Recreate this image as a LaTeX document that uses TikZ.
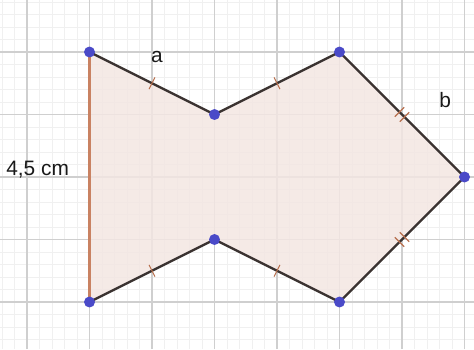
\documentclass[tikz,border=0pt]{standalone}
\usepackage{fontspec}
\setmainfont{Liberation Sans}
\usetikzlibrary{positioning}
\definecolor{gridmajor}{HTML}{CFCFCF}
\definecolor{gridminor}{HTML}{F0F0F0}
\definecolor{shapefill}{HTML}{F3E6E2}
\definecolor{edgedark}{HTML}{3A3230}
\definecolor{edgeside}{HTML}{C98262}
\definecolor{tickcol}{HTML}{B8704E}
\definecolor{pointcol}{HTML}{4A4AC8}
\tikzset{
    % Grid lines
    minor grid/.style={gridminor, line width=0.4pt},
    major grid/.style={gridmajor, line width=0.6pt},
    % Shape outline
    shape edge/.style={edgedark, line width=1.1pt},
    side edge/.style={edgeside, line width=1pt},
    % Equal length marks
    tick mark/.style={sloped, fill=tickcol, inner sep=0pt, minimum width=0.5pt, minimum height=6pt},
    % Vertices - blue dots
    vertex/.style={circle, fill=pointcol, inner sep=0pt, minimum size=5pt},
    % Labels
    label text/.style={font=\fontsize{9.5}{11}\selectfont, text=black!90}
}

\begin{document}
\begin{tikzpicture}
    \useasboundingbox (-0.432,-0.752) rectangle (7.152,4.832);

    % --- Background grid ---
    \draw[minor grid] (-0.432,-0.752) grid[step=0.2] (7.152,4.832);
    \draw[major grid] (-0.432,-0.752) grid[step=1] (7.152,4.832);

    % --- Set up coordinates ---
    \coordinate (A) at (1,4);
    \coordinate (B) at (3,3);
    \coordinate (C) at (5,4);
    \coordinate (D) at (7,2);
    \coordinate (E) at (5,0);
    \coordinate (F) at (3,1);
    \coordinate (G) at (1,0);

    % --- Filled shape ---
    \fill[shapefill, opacity=0.85] (A) -- (B) -- (C) -- (D) -- (E) -- (F) -- (G) -- cycle;

    % --- Edges with marks ---
    \draw[side edge] (G) -- (A);
    \draw[shape edge] (A) -- (B) node[tick mark, pos=0.5] {};
    \draw[shape edge] (B) -- (C) node[tick mark, pos=0.5] {};
    \draw[shape edge] (C) -- (D) node[tick mark, pos=0.48] {} node[tick mark, pos=0.52] {};
    \draw[shape edge] (D) -- (E) node[tick mark, pos=0.48] {} node[tick mark, pos=0.52] {};
    \draw[shape edge] (E) -- (F) node[tick mark, pos=0.5] {};
    \draw[shape edge] (F) -- (G) node[tick mark, pos=0.5] {};

    % --- Vertices ---
    \node[vertex] (pA) at (A) {};
    \node[vertex] (pB) at (B) {};
    \node[vertex] (pC) at (C) {};
    \node[vertex] (pD) at (D) {};
    \node[vertex] (pE) at (E) {};
    \node[vertex] (pF) at (F) {};
    \node[vertex] (pG) at (G) {};

    % --- Labels ---
    \node[label text] (lblA) at (2.08,3.92) {a};
    \node[label text] (lblB) at (6.69,3.23) {b};
    \node[label text] (lblSide) at (0.17,2.11) {4,5 cm};

\end{tikzpicture}
\end{document}
